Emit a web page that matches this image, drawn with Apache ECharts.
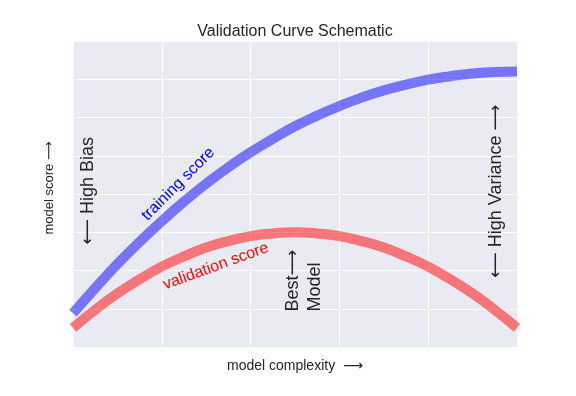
<!DOCTYPE html>
<html>
<head>
<meta charset="utf-8">
<script src="https://cdn.jsdelivr.net/npm/echarts@6/dist/echarts.min.js"></script>
<style>
  html, body { margin: 0; padding: 0; background: #fff; }
  #main { width: 576px; height: 396px; }
</style>
</head>
<body>
<div id="main"></div>
<script>
// model complexity (x) and the two score curves
const complexity = [0, 0.05, 0.1, 0.15, 0.2, 0.25, 0.3, 0.35, 0.4, 0.45, 0.5,
  0.55, 0.6, 0.65, 0.7, 0.75, 0.8, 0.85, 0.9, 0.95, 1]
const trainingScore = [-0.212, -0.146, -0.083, -0.025, 0.029, 0.080, 0.127, 0.170, 0.209, 0.244, 0.277,
  0.305, 0.330, 0.352, 0.371, 0.386, 0.399, 0.408, 0.415, 0.419, 0.420]
const validationScore = [-0.250, -0.203, -0.160, -0.123, -0.090, -0.063, -0.040, -0.023, -0.010, -0.003, 0,
  -0.003, -0.010, -0.023, -0.040, -0.063, -0.090, -0.123, -0.160, -0.203, -0.250]

const font = 'Liberation Sans, Arial, DejaVu Sans, sans-serif'
const ink = '#262626'

const chart = echarts.init(document.getElementById('main'))

const zip = (xs, ys) => xs.map((x, i) => [x, ys[i]])

chart.setOption({
  animation: false,
  title: {
    text: 'Validation Curve Schematic',
    left: 290,
    textAlign: 'center',
    top: 19,
    textStyle: { fontFamily: font, fontSize: 16, fontWeight: 'normal', color: ink }
  },
  grid: {
    left: 73, right: 59, top: 41, bottom: 49,
    show: true, backgroundColor: '#EAEAF2', borderWidth: 0
  },
  xAxis: {
    type: 'value', min: 0, max: 1, interval: 0.2,
    name: 'model complexity  \u27F6', nameLocation: 'middle', nameGap: 12,
    nameTextStyle: { fontFamily: font, fontSize: 14, color: ink },
    axisLine: { show: false }, axisTick: { show: false }, axisLabel: { show: false },
    splitLine: { lineStyle: { color: '#fff', width: 1 } }
  },
  yAxis: {
    type: 'value', min: -0.3, max: 0.5, interval: 0.1,
    name: 'model score \u27F6', nameLocation: 'middle', nameGap: 17,
    nameTextStyle: { fontFamily: font, fontSize: 13, color: ink, padding: [0, 0, 0, 12] },
    axisLine: { show: false }, axisTick: { show: false }, axisLabel: { show: false },
    splitLine: { lineStyle: { color: '#fff', width: 1 } }
  },
  series: [
    {
      name: 'training score', type: 'line', smooth: true, showSymbol: false, clip: true,
      data: zip(complexity, trainingScore),
      lineStyle: { color: 'blue', width: 10, opacity: 0.5, cap: 'butt' }
    },
    {
      name: 'validation score', type: 'line', smooth: true, showSymbol: false, clip: true,
      data: zip(complexity, validationScore),
      lineStyle: { color: 'red', width: 10, opacity: 0.5, cap: 'butt' }
    }
  ]
})

// annotations placed in data coordinates
const notes = [
  { at: [0.237, 0.126], text: 'training score', rot: 45, size: 16, color: 'blue', align: 'center' },
  { at: [0.322, -0.089], text: 'validation score', rot: 20, size: 16, color: 'red', align: 'center' },
  { at: [0.034, 0.108], text: '\u27F5 High Bias', rot: 90, size: 18, color: ink, align: 'center' },
  { at: [0.953, 0.107], text: '\u27F5 High Variance \u27F6', rot: 90, size: 18, color: ink, align: 'center' },
  { at: [0.521, -0.207], text: 'Best\u27F6\nModel', rot: 90, size: 18, color: ink, align: 'left' }
]

chart.setOption({
  graphic: notes.map(n => {
    const p = chart.convertToPixel({ gridIndex: 0 }, n.at)
    return {
      type: 'text', x: p[0], y: p[1], rotation: n.rot * Math.PI / 180,
      style: {
        text: n.text, fill: n.color, font: n.size + 'px ' + font,
        align: n.align, verticalAlign: 'middle', lineHeight: 22
      }
    }
  })
})
</script>
</body>
</html>
